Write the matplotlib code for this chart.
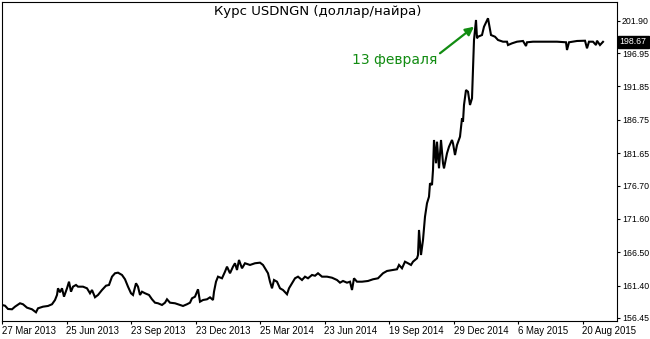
import matplotlib.pyplot as plt
from matplotlib import transforms

# Дневные бары USDNGN (номер бара -> цена)
bars = [
    0, 3, 6, 10, 13, 18, 21, 25, 30, 34, 36, 41, 46, 50, 53, 55, 56, 58, 60, 62,
    65, 67, 69, 71, 74, 76, 81, 85, 88, 90, 93, 96, 100, 104, 107, 110, 113, 116, 120, 123,
    126, 129, 131, 134, 136, 138, 140, 143, 147, 150, 153, 156, 160, 163, 165, 168, 173, 178, 181, 185,
    188, 190, 193, 196, 198, 201, 205, 208, 211, 212, 214, 216, 220, 223, 225, 228, 231, 233, 235, 237,
    240, 243, 248, 253, 258, 261, 264, 266, 268, 270, 272, 275, 278, 281, 285, 287, 290, 293, 296, 300,
    303, 306, 310, 313, 316, 320, 325, 330, 335, 338, 341, 345, 348, 350, 352, 355, 360, 366, 371, 376,
    381, 385, 391, 395, 397, 400, 403, 406, 409, 411, 415, 416, 417, 419, 421, 423, 425, 427, 428, 430,
    431, 432, 434, 435, 437, 439, 441, 442, 445, 447, 450, 451, 453, 455, 458, 460, 461, 462, 464, 466,
    468, 470, 471, 472, 474, 475, 476, 480, 482, 486, 489, 493, 496, 501, 505, 506, 510, 515, 521, 524,
    525, 531, 541, 555, 564, 565, 567, 575, 583, 585, 587, 591, 594, 595, 598, 601,
]
prices = [
    158.43, 158.32, 157.82, 157.77, 158.17, 158.69, 158.54, 158.02, 157.77, 157.31,
    157.92, 158.17, 158.28, 158.54, 159.19, 159.96, 160.98, 160.37, 160.98, 159.70,
    160.98, 161.99, 160.46, 161.23, 161.49, 161.23, 161.23, 160.98, 160.22, 160.72,
    159.61, 159.96, 160.72, 161.38, 161.49, 162.76, 163.28, 163.37, 163.02, 162.36,
    161.23, 160.22, 159.96, 161.75, 161.23, 159.96, 160.46, 160.22, 159.96, 159.30,
    158.78, 158.69, 158.43, 158.78, 159.30, 158.78, 158.69, 158.43, 158.28, 158.54,
    158.78, 159.45, 159.70, 160.83, 158.93, 159.19, 159.30, 159.60, 159.19, 160.46,
    161.99, 162.76, 162.51, 163.52, 164.29, 163.28, 164.29, 164.81, 163.78, 165.31,
    164.04, 164.81, 164.55, 164.81, 164.90, 164.55, 163.78, 163.28, 161.99, 160.98,
    162.25, 161.99, 160.98, 160.72, 160.07, 160.98, 161.75, 162.51, 162.76, 162.25,
    162.76, 162.51, 163.02, 162.90, 163.28, 162.76, 162.76, 162.60, 162.25, 161.84,
    162.10, 161.84, 161.99, 160.72, 162.51, 161.99, 161.99, 162.10, 162.36, 162.51,
    163.28, 163.63, 163.78, 163.89, 164.55, 164.04, 165.05, 164.81, 164.55, 165.05,
    165.57, 166.07, 169.90, 166.07, 168.37, 171.93, 173.98, 174.99, 177.04, 176.78,
    179.07, 183.66, 180.10, 183.40, 179.33, 183.66, 180.10, 179.33, 181.62, 182.63,
    183.66, 183.15, 181.36, 182.89, 184.16, 186.98, 186.46, 189.01, 191.30, 191.04,
    189.01, 190.03, 194.36, 198.95, 202.01, 199.21, 199.45, 199.71, 200.98, 202.27,
    199.71, 199.45, 198.95, 198.69, 198.69, 198.18, 198.44, 198.69, 198.80, 198.03,
    198.60, 198.69, 198.69, 198.69, 198.60, 197.42, 198.60, 198.80, 198.84, 197.68,
    198.69, 198.69, 198.18, 198.84, 198.18, 198.67,
]

# Шкала цен справа
price_ticks = [201.90, 196.95, 191.85, 186.75, 181.65, 176.70, 171.60, 166.50, 161.40, 156.45]

# Метки дат по номерам баров
date_bars = [0, 64.5, 129, 193.5, 258, 322.5, 387, 451.5, 516, 580.5]
date_labels = ['27 Mar 2013', '25 Jun 2013', '23 Sep 2013', '23 Dec 2013', '25 Mar 2014',
               '23 Jun 2014', '19 Sep 2014', '29 Dec 2014', '6 May 2015', '20 Aug 2015']

last_price = 198.67
event_bar, event_price = 472, 200.98
event_text = '13 февраля'
title = 'Курс USDNGN (доллар/найра)'

W, H = 650, 339
fig = plt.figure(figsize=(W / 100, H / 100), dpi=100)
ax = fig.add_axes([2 / W, 1 - 321 / H, 615 / W, 319 / H])

ax.plot(bars, prices, color='black', lw=1.5, solid_joinstyle='miter')

ax.set_xlim(0, 615)
ax.set_ylim(155.98, 204.76)

for s in ax.spines.values():
    s.set_linewidth(0.8)
    s.set_color('black')

ax.yaxis.tick_right()
ax.set_yticks(price_ticks)
ax.set_yticklabels([f'{p:.2f}' for p in price_ticks])
ax.set_xticks(date_bars)
ax.set_xticklabels(date_labels)
for lab in ax.get_xticklabels():
    lab.set_horizontalalignment('left')
ax.tick_params(axis='both', direction='out', length=2, width=0.8, labelcolor='black')
ax.tick_params(axis='y', pad=1.5, labelsize=6.3)
ax.tick_params(axis='x', pad=1.5, labelsize=6.9)
for lab in ax.get_xticklabels() + ax.get_yticklabels():
    lab.set_family('Liberation Sans')

# Последняя цена в чёрной плашке
trans = transforms.blended_transform_factory(ax.transAxes, ax.transData)
ax.annotate(f'{last_price:.2f}', xy=(1.0, last_price), xycoords=trans,
            xytext=(2.0, 0), textcoords='offset points', ha='left', va='center',
            fontsize=6.3, family='Liberation Sans', color='white',
            bbox=dict(boxstyle='square,pad=0.2', facecolor='black', edgecolor='black'))

# Стрелка к 13 февраля
ax.annotate('', xy=(event_bar, event_price), xytext=(438, 196.92),
            arrowprops=dict(arrowstyle='-|>,head_length=0.5,head_width=0.25',
                            color='#128c12', lw=1.6, shrinkA=0, shrinkB=0))
ax.text(435, 195.89, event_text, ha='right', va='center', fontsize=10,
        color='#128c12', family='DejaVu Sans')

fig.text(318 / W, 1 - 12 / H, title, ha='center', va='center', fontsize=9.5,
         family='DejaVu Sans', color='black')

fig.savefig('out.png', dpi=100)
